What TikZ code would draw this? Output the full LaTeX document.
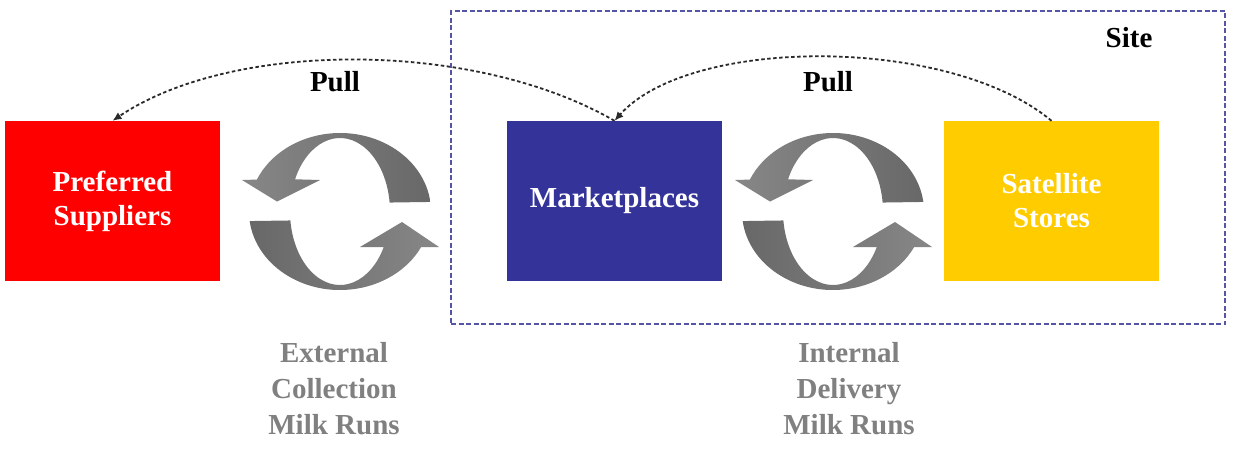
\documentclass[tikz,border=0pt]{standalone}
\usepackage{fontspec}
\setmainfont{Liberation Serif}
\usetikzlibrary{arrows.meta,calc}
\definecolor{supred}{HTML}{FF0000}
\definecolor{mkblue}{HTML}{333399}
\definecolor{satyellow}{HTML}{FFCC00}
\definecolor{sitecol}{HTML}{5555A5}
\definecolor{cyclight}{HTML}{878787}
\definecolor{cycdark}{HTML}{686868}
\definecolor{labgray}{HTML}{808080}
\definecolor{pullcol}{HTML}{2A2A2A}
\begin{document}
\begin{tikzpicture}[x=1pt,y=-1pt,
  box/.style={minimum width=215pt, minimum height=160pt, inner sep=0pt, text=white,
    font=\fontsize{29}{34}\selectfont\bfseries, align=center},
  sitebox/.style={draw=sitecol, line width=2pt, dash pattern=on 5pt off 2.5pt,
    minimum width=774pt, minimum height=313pt, inner sep=0pt},
  pull/.style={draw=pullcol, line width=1.8pt, dash pattern=on 3.5pt off 2.5pt,
    -{Latex[length=9pt,width=8pt]}},
  pulllab/.style={font=\fontsize{29}{34}\selectfont\bfseries, inner sep=0pt, text=black},
  milklab/.style={font=\fontsize{29}{36}\selectfont\bfseries, inner sep=0pt, text=labgray, align=center},
  milkcycle/.pic={
    \shade[left color=cyclight, right color=cycdark]
      (-7:91 and 78.5) arc[start angle=-7, end angle=-156, x radius=91, y radius=78.5]
      -- (-98,-31.5) -- (-63,-10) -- (-20,-31.5)
      -- (-154:50 and 73.5) arc[start angle=-154, end angle=-7, x radius=50, y radius=73.5]
      -- cycle;
    \shade[left color=cycdark, right color=cyclight]
      (173:91 and 78.5) arc[start angle=173, end angle=27, x radius=91, y radius=78.5]
      -- (99,35.5) -- (62,10.5) -- (20,35.5)
      -- (29:50 and 73.5) arc[start angle=29, end angle=173, x radius=50, y radius=73.5]
      -- cycle;
  }
]
\useasboundingbox (0,0) rectangle (1233,451);
\fill[white] (0,0) rectangle (1233,451);

\node[sitebox] (site) at (838,167.5) {};
\node[pulllab, anchor=base] (sitelab) at (1129,47) {Site};

\node[box, fill=supred] (red) at (112.5,201) {Preferred\\Suppliers};
\node[box, fill=mkblue] (blue) at (614.5,201) {Marketplaces};
\node[box, fill=satyellow] (yellow) at (1051.5,201) {Satellite\\Stores};

\pic at (340,211.5) {milkcycle};
\pic at (833,211.5) {milkcycle};

\node[pulllab, anchor=base] (pull1) at (335,91) {Pull};
\node[pulllab, anchor=base] (pull2) at (828,91) {Pull};

\draw[pull] (blue.north) .. controls +(-140,-81) and +(120,-81) .. (red.north);
\draw[pull] (yellow.north) .. controls +(-101.5,-85) and +(75.5,-85) .. (blue.north);

\node[milklab, anchor=north] (extlab) at (334,342) {External\\Collection\\Milk Runs};
\node[milklab, anchor=north] (intlab) at (849,342) {Internal\\Delivery\\Milk Runs};
\end{tikzpicture}
\end{document}
